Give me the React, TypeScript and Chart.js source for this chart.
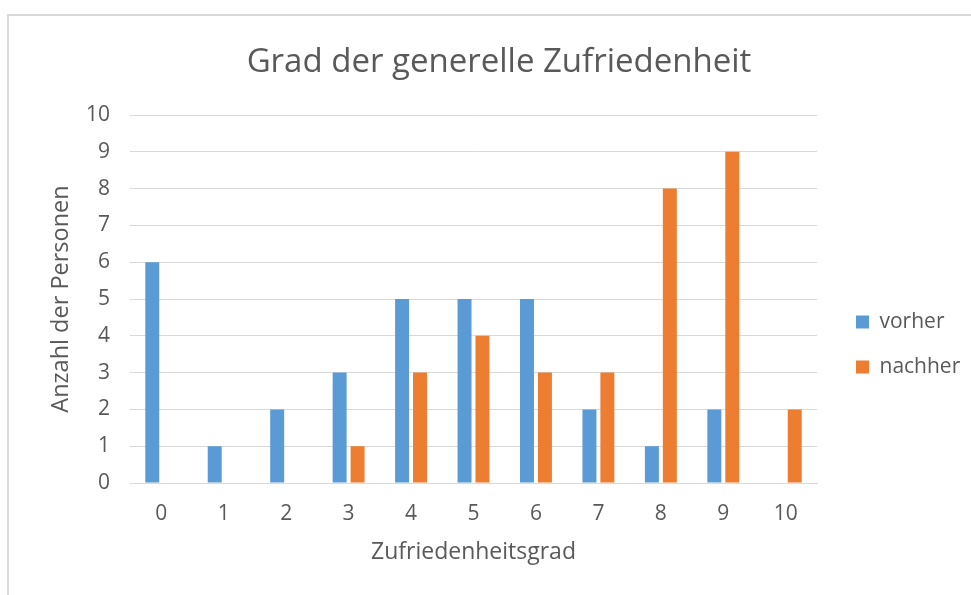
import React, { useEffect, useRef } from "react";
import { Chart, registerables } from "chart.js";

Chart.register(...registerables);

const categories = ["0", "1", "2", "3", "4", "5", "6", "7", "8", "9", "10"];
const vorher = [6, 1, 2, 3, 5, 5, 5, 2, 1, 2, 0];
const nachher = [0, 0, 0, 1, 3, 4, 3, 3, 8, 9, 2];
const seriesNames = ["vorher", "nachher"];
const yTicks = [0, 1, 2, 3, 4, 5, 6, 7, 8, 9, 10];

const TEXT = "#595959";
const GRID = "#d9d9d9";
const FONT = '"Open Sans", "DejaVu Sans", sans-serif';

const layoutFix = {
  id: "layoutFix",
  afterLayout(chart: any) {
    const ca = chart.chartArea;
    const lg = chart.legend;
    if (lg) {
      lg.left = ca.right + 15;
      lg.right = lg.left + 200;
      lg.top = ca.top + 161;
      lg.bottom = lg.top + 137;
      lg.width = lg.right - lg.left;
      lg.height = lg.bottom - lg.top;
    }
    const tb = chart.titleBlock;
    if (tb) {
      tb.left = 0;
      tb.right = chart.width;
      tb.width = chart.width;
    }
  },
};

export default function App() {
  const ref = useRef<HTMLCanvasElement>(null);
  useEffect(() => {
    if (!ref.current) return;
    const chart = new Chart(ref.current, {
      type: "bar",
      data: {
        labels: categories,
        datasets: [
          {
            label: seriesNames[0],
            data: vorher,
            backgroundColor: "#5B9BD5",
            borderWidth: 0,
            categoryPercentage: 0.574,
            barPercentage: 0.78,
          },
          {
            label: seriesNames[1],
            data: nachher,
            backgroundColor: "#ED7D31",
            borderWidth: 0,
            categoryPercentage: 0.574,
            barPercentage: 0.78,
          },
        ],
      },
      options: {
        responsive: false,
        animation: false,
        layout: { padding: { left: 0, right: 112, top: 0, bottom: 32 } },
        font: { family: FONT },
        plugins: {
          title: {
            display: true,
            text: "Grad der generelle Zufriedenheit",
            color: TEXT,
            font: { family: FONT, size: 33, weight: "normal" },
            padding: { top: 27.5, bottom: 32.9 },
          },
          legend: {
            display: true,
            position: "right",
            maxWidth: 60,
            labels: {
              color: TEXT,
              font: { family: FONT, size: 21 },
              boxWidth: 13,
              boxHeight: 13,
              padding: 24,
            },
          },
          tooltip: { enabled: false },
        },
        scales: {
          x: {
            grid: { display: false, drawTicks: false },
            border: { display: true, color: GRID, width: 1 },
            ticks: { color: TEXT, font: { family: FONT, size: 21 }, padding: 18 },
            title: {
              display: true,
              text: "Zufriedenheitsgrad",
              color: TEXT,
              font: { family: FONT, size: 23 },
              padding: { top: 0, bottom: 17 },
            },
            afterFit: (s: any) => {
              s.height = 100;
            },
          },
          y: {
            min: 0,
            max: 10,
            afterBuildTicks: (s: any) => {
              s.ticks = yTicks.map((v) => ({ value: v }));
            },
            grid: { color: GRID, lineWidth: 1, drawTicks: false },
            border: { display: false },
            ticks: { color: TEXT, font: { family: FONT, size: 21 }, padding: 20 },
            title: {
              display: true,
              text: "Anzahl der Personen",
              color: TEXT,
              font: { family: FONT, size: 23.5 },
              padding: { top: 38, bottom: 0 },
            },
            afterFit: (s: any) => {
              s.width = 121;
            },
          },
        },
      },
      plugins: [layoutFix],
    });
    return () => chart.destroy();
  }, []);

  return (
    <div style={{ position: "fixed", left: 0, top: 0, width: 971, height: 595, overflow: "hidden", background: "#fff" }}>
      <div style={{ position: "absolute", left: 7, top: 14, width: 2, height: 600, background: GRID }} />
      <div style={{ position: "absolute", left: 7, top: 14, width: 1000, height: 2, background: GRID }} />
      <canvas ref={ref} width={980} height={600} style={{ position: "absolute", left: 9, top: 15, width: 980, height: 600 }} />
    </div>
  );
}
